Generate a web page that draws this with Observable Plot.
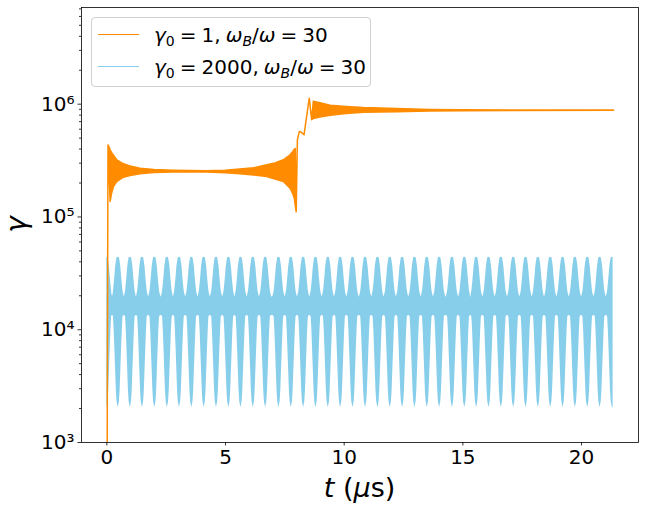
<!DOCTYPE html>
<html><head><meta charset="utf-8">
<script src="https://cdn.jsdelivr.net/npm/d3@7"></script>
<script src="https://cdn.jsdelivr.net/npm/@observablehq/plot@0.6"></script>
<style>
body{margin:0;background:#fff;}
#wrap{position:relative;width:645px;height:509px;font-family:"DejaVu Sans";}
#legend{position:absolute;left:91px;top:17px;width:280px;height:70px;box-sizing:border-box;border:1px solid #d0d0d0;border-radius:4px;background:rgba(255,255,255,0.8);}
.row{position:absolute;left:0;width:100%;height:26px;}
.swatch{position:absolute;left:6px;top:12px;width:41px;height:0;border-top:1.6px solid;}
.lab{position:absolute;left:62px;top:0;line-height:26px;font-size:20px;white-space:nowrap;color:#000;}
.lab i{font-style:italic;}
.lab sub{font-size:0.7em;vertical-align:-0.3em;line-height:0;}
.sp{display:inline-block;width:5px;}
</style>
</head>
<body><div id="wrap"></div>
<script>
// ---- data ----
const seriesColors = ["#FF8C00", "#87CEEB"];
const xTicks = [0, 5, 10, 15, 20];
const yTicks = [1e3, 1e4, 1e5, 1e6];
const yTickLabels = ["10³", "10⁴", "10⁵", "10⁶"];
const yMinorTicks = [2e3,3e3,4e3,5e3,6e3,7e3,8e3,9e3,2e4,3e4,4e4,5e4,6e4,7e4,8e4,9e4,2e5,3e5,4e5,5e5,6e5,7e5,8e5,9e5,2e6,3e6,4e6,5e6,6e6,7e6];

// orange series (gamma0 = 1): envelope of the fast oscillation
const orangeT  = [0, 0.07, 0.10, 0.16, 0.22, 0.30, 0.44, 0.72, 1.0, 1.42, 2.0, 2.82, 3.5, 4.23, 5.0, 5.63, 6.2, 6.76, 7.1, 7.46, 7.74, 7.85, 7.92, 7.96, 8.0, 8.05, 8.13, 8.2, 8.33, 8.45, 8.55, 8.65, 8.72, 9.0, 9.43, 10.1, 10.83, 12.24, 13.64, 15.0, 17.0, 21.37];
const orangeLo = [1, 4.3e5, 3.0e5, 1.36e5, 1.6e5, 1.84e5, 2.04e5, 2.23e5, 2.31e5, 2.39e5, 2.45e5, 2.48e5, 2.49e5, 2.48e5, 2.44e5, 2.39e5, 2.33e5, 2.26e5, 2.15e5, 2.04e5, 1.78e5, 1.6e5, 1.45e5, 1.25e5, 1.1e5, 4.8e5, 5.66e5, 5.6e5, 5.3e5, 8.0e5, 1.12e6, 7.2e5, 7.4e5, 7.6e5, 7.9e5, 8.2e5, 8.4e5, 8.5e5, 8.6e5, 8.65e5, 8.72e5, 8.75e5];
const orangeHi = [1, 4.3e5, 4.2e5, 3.9e5, 3.7e5, 3.5e5, 3.18e5, 2.93e5, 2.8e5, 2.68e5, 2.61e5, 2.57e5, 2.55e5, 2.54e5, 2.57e5, 2.63e5, 2.7e5, 2.87e5, 2.98e5, 3.18e5, 3.52e5, 3.75e5, 3.95e5, 4.0e5, 1.1e5, 4.8e5, 5.66e5, 5.6e5, 5.3e5, 8.0e5, 1.12e6, 7.2e5, 1.05e6, 1.02e6, 9.7e5, 9.45e5, 9.25e5, 9.05e5, 8.9e5, 8.85e5, 8.8e5, 8.78e5];

// blue series (gamma0 = 2000): beat lobes of the fast oscillation
const blueCenters = [0, 0.48, 0.99, 1.50, 2.02, 2.55, 3.06, 3.58, 4.10, 4.62, 5.14, 5.65, 6.17, 6.69, 7.25, 7.77, 8.29, 8.81, 9.33, 9.85, 10.37, 10.90, 11.42, 11.94, 12.46, 12.98, 13.50, 14.02, 14.56, 15.08, 15.58, 16.10, 16.62, 17.14, 17.66, 18.18, 18.70, 19.22, 19.74, 20.26, 20.78, 21.30];
const blueEnd = 21.33;
const lobeOffset = [0, 0.05, 0.08, 0.11, 0.14, 0.17, 0.20, 0.23, 0.26];
const lobeHi = [4.4e4, 4.35e4, 4.0e4, 3.6e4, 3.0e4, 2.55e4, 2.2e4, 2.05e4, 1.95e4];
const lobeLo = [2.03e3, 2.3e3, 2.9e3, 4.4e3, 6.6e3, 9.8e3, 1.3e4, 1.33e4, 1.34e4];

// ---- tables for the library ----
const orangeRows = orangeT.map((t, i) => ({t, lo: orangeLo[i], hi: orangeHi[i]}));
const blueRows = [];
blueCenters.forEach(c => {
  lobeOffset.forEach((o, i) => {
    [c - o, c + o].forEach(t => {
      if (t >= 0 && t <= blueEnd) blueRows.push({t, lo: lobeLo[i], hi: lobeHi[i]});
    });
  });
});
blueRows.push({t: blueEnd, lo: lobeLo[0], hi: lobeHi[0]});
blueRows.sort((a, b) => a.t - b.t);

const chart = Plot.plot({
  width: 645, height: 509,
  marginLeft: 81, marginRight: 7, marginTop: 7, marginBottom: 67,
  style: {fontFamily: "DejaVu Sans", fontSize: "20px", color: "black", background: "white"},
  x: {domain: [-1.067, 22.4]},
  y: {type: "log", domain: [1e3, 7.2e6]},
  marks: [
    Plot.areaY(blueRows, {x: "t", y1: "lo", y2: "hi", fill: seriesColors[1], clip: true}),
    Plot.areaY(orangeRows, {x: "t", y1: "lo", y2: "hi", fill: seriesColors[0], stroke: seriesColors[0], strokeWidth: 1.5, strokeLinejoin: "round", clip: true}),
    Plot.axisY({ticks: yMinorTicks, tickSize: 2, tickFormat: () => "", label: null, strokeWidth: 0.8}),
    Plot.axisY({ticks: yTicks, tickSize: 3.5, tickPadding: 3.5, tickFormat: d => yTickLabels[yTicks.indexOf(d)], label: null, fontSize: 20, strokeWidth: 0.8}),
    Plot.axisX({ticks: xTicks, tickSize: 3.5, tickPadding: 4, label: null, fontSize: 20, strokeWidth: 0.8}),
    Plot.frame({stroke: "black", strokeWidth: 0.8})
  ]
});

const svg = d3.select(chart);
const xl = svg.append("text").attr("x", 359.5).attr("y", 497).attr("text-anchor", "middle")
  .attr("font-size", 27).attr("font-family", "DejaVu Sans").attr("fill", "black");
xl.append("tspan").attr("font-style", "italic").text("t");
xl.append("tspan").text(" (");
xl.append("tspan").attr("font-style", "italic").text("μ");
xl.append("tspan").text("s)");
svg.append("text").attr("transform", "translate(26,224.5) rotate(-90)").attr("text-anchor", "middle")
  .attr("font-size", 28).attr("font-style", "italic").attr("font-family", "DejaVu Sans").attr("fill", "black").text("γ");

const wrap = document.getElementById("wrap");
wrap.appendChild(chart);
const legend = document.createElement("div");
legend.id = "legend";
legend.innerHTML =
  `<div class="row" style="top:4px"><div class="swatch" style="border-color:${seriesColors[0]}"></div><div class="lab"><i>γ</i><sub>0</sub><span class="sp"></span>=<span class="sp"></span>1,<span class="sp"></span><i>ω</i><sub><i>B</i></sub>/<i>ω</i><span class="sp"></span>=<span class="sp"></span>30</div></div>` +
  `<div class="row" style="top:36px"><div class="swatch" style="border-color:${seriesColors[1]}"></div><div class="lab"><i>γ</i><sub>0</sub><span class="sp"></span>=<span class="sp"></span>2000,<span class="sp"></span><i>ω</i><sub><i>B</i></sub>/<i>ω</i><span class="sp"></span>=<span class="sp"></span>30</div></div>`;
wrap.appendChild(legend);
</script>
</body></html>
